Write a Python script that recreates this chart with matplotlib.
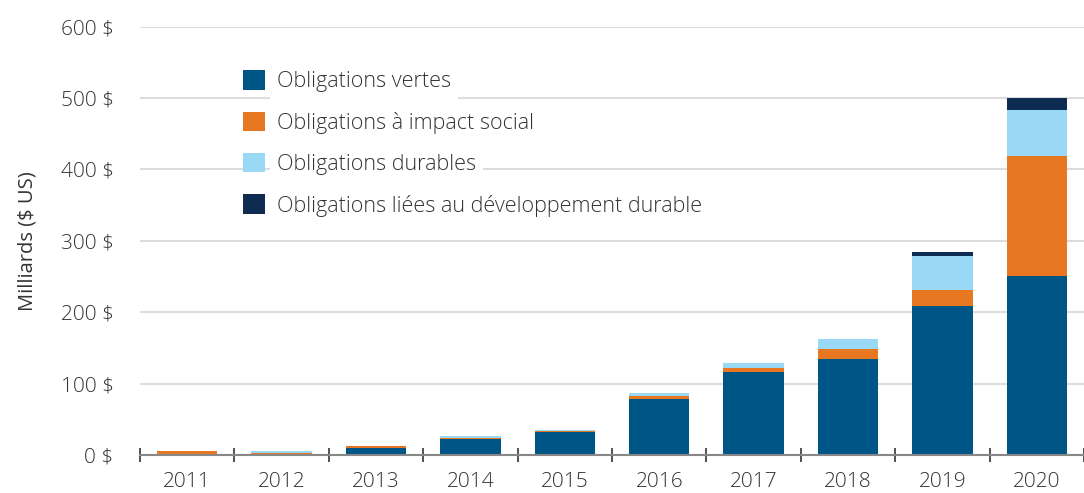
import numpy as np
import matplotlib
matplotlib.use("Agg")
import matplotlib.pyplot as plt

plt.rcParams['font.family'] = ['Open Sans', 'DejaVu Sans']
plt.rcParams['font.weight'] = 'light'

# Données (milliards $ US)
annees = ['2011', '2012', '2013', '2014', '2015', '2016', '2017', '2018', '2019', '2020']
vertes = [0, 0.5, 10, 22, 32, 78, 116, 134, 209, 251]
impact_social = [5.5, 2.5, 2.5, 1.5, 1.5, 4, 5.5, 14, 22, 168]
durables = [0, 2, 0, 2.5, 2, 5, 7, 14, 48, 64]
developpement = [0, 0, 0, 0, 0, 0, 0, 0, 5.5, 17]

series = [
    ("Obligations vertes", vertes, "#005587"),
    ("Obligations à impact social", impact_social, "#E87722"),
    ("Obligations durables", durables, "#99D9F5"),
    ("Obligations liées au développement durable", developpement, "#0E2B52"),
]

fig = plt.figure(figsize=(10.84, 4.93), dpi=100)
ax = fig.add_axes([140/1084, 1 - 455/493, (1084-140)/1084, (455-26.6)/493])

x = np.arange(len(annees))
bas = np.zeros(len(annees))
for nom, vals, coul in series:
    ax.bar(x, vals, 0.64, bottom=bas, color=coul, label=nom, zorder=3)
    bas += np.array(vals)

ax.set_xlim(-0.44, 9.46)
ax.set_ylim(0, 600)
ax.set_yticks(range(0, 601, 100))
ax.set_yticklabels([f"{v} $" for v in range(0, 601, 100)])
ax.set_xticks(x)
ax.set_xticklabels(annees)
ax.set_xticks(np.arange(-0.5, 10, 1), minor=True)

ax.grid(axis='y', color='#DDDDDD', linewidth=1.5, zorder=0)
for s in ['top', 'right', 'left']:
    ax.spines[s].set_visible(False)
ax.spines['bottom'].set_color('#888888')
ax.spines['bottom'].set_linewidth(1.5)
ax.spines['bottom'].set_zorder(4)

ax.tick_params(axis='y', length=0, pad=19, labelsize=15, labelcolor='#333333')
ax.tick_params(axis='x', which='major', length=0, pad=12, labelsize=15, labelcolor='#333333')
ax.tick_params(axis='x', which='minor', direction='inout', length=10, width=1.2, color='#333333')

ax.set_ylabel("Milliards ($ US)", fontsize=14.5, color='#333333', labelpad=17)

leg = ax.legend(loc='upper left', bbox_to_anchor=(0.1005, 0.918), frameon=False,
                prop={'size': 15.5, 'weight': 'light'},
                handlelength=1.0, handleheight=1.0, handletextpad=0.55,
                labelspacing=0.9, borderaxespad=0)
leg.set_zorder(5)
for t in leg.get_texts():
    t.set_color('#333333')
    t.set_bbox(dict(facecolor='white', edgecolor='none', pad=5))

fig.savefig("out.png", dpi=100)
